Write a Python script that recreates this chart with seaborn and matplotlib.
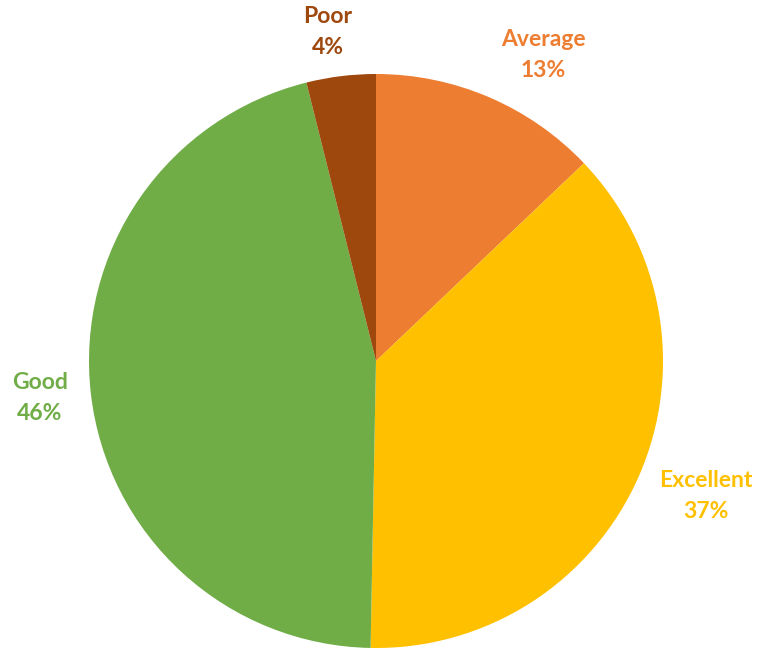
import matplotlib
matplotlib.use("Agg")
import matplotlib.pyplot as plt
import seaborn as sns

# Rating shares (percent)
categories = ["Average", "Excellent", "Good", "Poor"]
shares = [12.9, 37.4, 45.8, 3.9]
colors = ["#ED7D31", "#FFC000", "#70AD47", "#9E480E"]

sns.set_style("white")
plt.rcParams['font.family'] = ['Lato', 'DejaVu Sans']

fig = plt.figure(figsize=(7.6, 6.49), dpi=100)
ax = fig.add_axes([89 / 760, 1 / 649, 574 / 760, 574 / 649])

wedges, _ = ax.pie(shares, colors=colors, startangle=90, counterclock=False,
                   radius=1, wedgeprops=dict(linewidth=0))
ax.set_xlim(-1, 1)
ax.set_ylim(-1, 1)
ax.set_aspect("equal")
ax.axis("off")

# label positions outside the pie (data coords)
label_pos = {"Average": (0.582, 1.066), "Excellent": (1.150, -0.470),
             "Good": (-1.171, -0.129), "Poor": (-0.167, 1.146)}
total = sum(shares)
for cat, val, col in zip(categories, shares, colors):
    x, y = label_pos[cat]
    ax.text(x, y, f"{cat}\n{round(val / total * 100)}%", color=col,
            fontsize=16.5, fontweight="bold", ha="center", va="center",
            linespacing=1.6, clip_on=False)

fig.savefig("out.png", dpi=100)
